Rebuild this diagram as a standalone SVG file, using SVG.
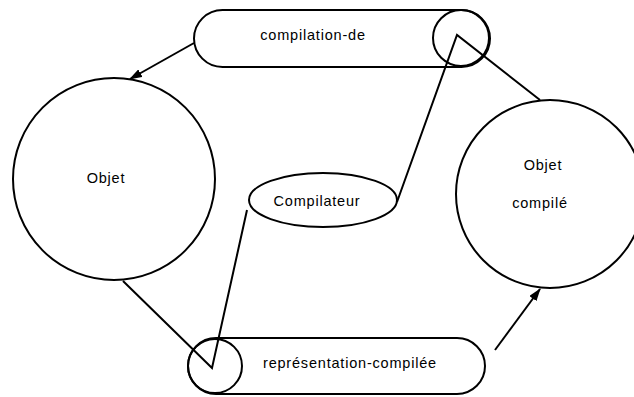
<svg xmlns="http://www.w3.org/2000/svg" width="634" height="397" viewBox="0 0 634 397">
  <style>
    .shape { fill: none; stroke: #000; stroke-width: 2; }
    .link { fill: none; stroke: #000; stroke-width: 2; }
    .label { font-family: "Liberation Sans", Arial, sans-serif; font-size: 14.5px; letter-spacing: 0.8px; fill: #000; text-anchor: middle; dominant-baseline: central; }
  </style>
  <defs>
    <marker id="arrow" viewBox="0 0 12 8" refX="11" refY="4" markerWidth="6.5" markerHeight="4.5" orient="auto" markerUnits="strokeWidth">
      <path d="M0,0 L12,4 L0,8 z" fill="#000"/>
    </marker>
  </defs>
  <rect width="634" height="397" fill="#fff"/>

  <g id="objet">
    <circle class="shape" cx="114" cy="179" r="101"/>
    <text class="label" x="106" y="178">Objet</text>
  </g>

  <g id="objet-compile">
    <circle class="shape" cx="550" cy="194" r="94"/>
    <text class="label" x="543" y="165">Objet</text>
    <text class="label" x="540" y="203">compilé</text>
  </g>

  <g id="compilateur">
    <ellipse class="shape" cx="323" cy="200" rx="74" ry="27"/>
    <text class="label" x="317" y="201">Compilateur</text>
  </g>

  <g id="compilation-de">
    <rect class="shape" x="194" y="10" width="296" height="57" rx="28.5" ry="28.5"/>
    <circle class="shape" cx="461" cy="38" r="28"/>
    <text class="label" x="313" y="35">compilation-de</text>
  </g>

  <g id="representation-compilee">
    <rect class="shape" x="188" y="338" width="297" height="56" rx="28" ry="28"/>
    <circle class="shape" cx="215" cy="366" r="27"/>
    <text class="label" x="350" y="363">représentation-compilée</text>
  </g>

  <g id="connectors">
    <line class="link" x1="194" y1="43" x2="130" y2="79" marker-end="url(#arrow)"/>
    <polyline class="link" points="397,202 457,35 540,100"/>
    <polyline class="link" points="123,281 212,368 247,210"/>
    <line class="link" x1="495" y1="350" x2="540" y2="289" marker-end="url(#arrow)"/>
  </g>
</svg>
